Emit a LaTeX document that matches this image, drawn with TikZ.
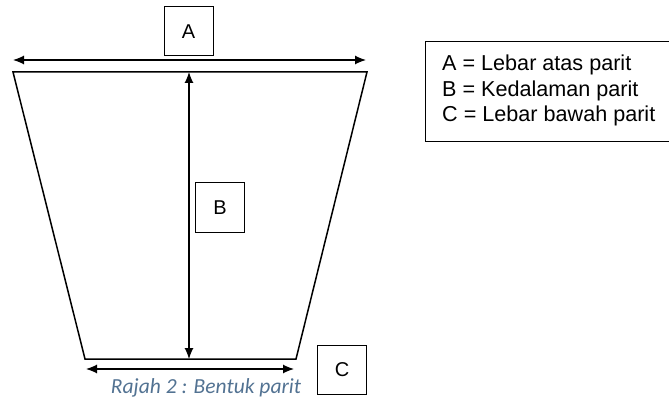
\documentclass[tikz,border=0pt]{standalone}
\usepackage{fontspec}
\setmainfont{Liberation Sans}
\newfontfamily\captionfont{Carlito}
\usetikzlibrary{arrows.meta}
\definecolor{capblue}{RGB}{82,114,146}
\tikzset{
    letterbox/.style={draw, line width=1pt, minimum width=49pt, minimum height=49pt,
        inner sep=0pt, font=\fontsize{20}{24}\selectfont},
    dimline/.style={{Latex[length=11pt,width=9pt]}-{Latex[length=11pt,width=9pt]}, line width=1.2pt}
}
\begin{document}
\begin{tikzpicture}[x=1pt,y=-1pt]
    \useasboundingbox (0,0) rectangle (669,398);

    % trench outline
    \coordinate (tl) at (13,72);
    \coordinate (tr) at (367,72);
    \coordinate (br) at (296,359);
    \coordinate (bl) at (85,359);
    \draw[line width=1.5pt] (tl) -- (tr) -- (br) -- (bl) -- cycle;

    % top width A
    \coordinate (al) at (13,60);
    \coordinate (ar) at (366,60);
    \draw[dimline] (al) -- (ar);
    \node[letterbox] (boxA) at (188.5,31.5) {A};

    % depth B
    \coordinate (bt) at (189,72);
    \coordinate (bb) at (189,359);
    \draw[dimline] (bb) -- (bt);
    \node[letterbox] (boxB) at (220,207.5) {B};

    % bottom width C
    \coordinate (cl) at (86,369);
    \coordinate (cr) at (294,369);
    \draw[dimline] (cl) -- (cr);
    \node[letterbox] (boxC) at (342,369.5) {C};

    % caption
    \node[font=\captionfont\itshape\fontsize{21.5}{24}\selectfont, text=capblue, anchor=base]
        (caption) at (206,393) {Rajah 2 : Bentuk parit};

    % legend
    \node[anchor=north west, align=left, inner sep=0pt, font=\fontsize{21.6}{25.5}\selectfont]
        (legend) at (442,55) {A = Lebar atas parit\\B = Kedalaman parit\\C = Lebar bawah parit};
    \draw[line width=1pt] (669,42) -- (425,42) -- (425,142) -- (669,142);
\end{tikzpicture}
\end{document}
